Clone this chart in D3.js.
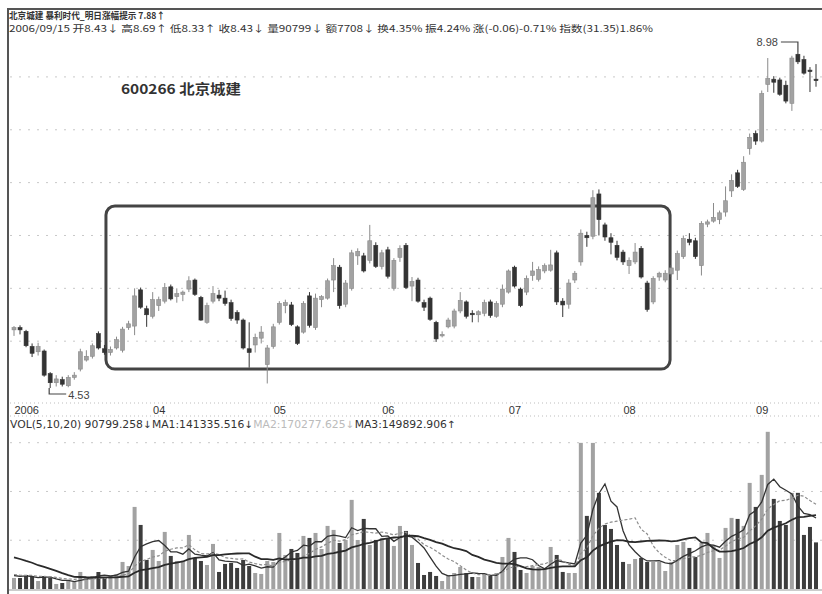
<!DOCTYPE html>
<html><head><meta charset="utf-8">
<script src="https://cdn.jsdelivr.net/npm/d3@7"></script>
<style>body{margin:0;background:#fff}svg{display:block}</style>
</head><body><svg id="c" width="822" height="594"></svg>
<script>
// ---- data ----
const open = [5.30,5.33,5.28,5.08,5.01,5.02,4.72,4.60,4.64,4.56, 4.67,4.78,4.90,4.95,5.25,5.05,5.00,5.06,5.03,5.33,
  5.35,5.83,5.58,5.48,5.62,5.68,5.87,5.74,5.77,5.84, 5.96,5.73,5.40,5.68,5.76,5.72,5.66,5.53,5.43,5.05,
  5.10,5.19,4.84,5.08,5.40,5.62,5.63,5.34,5.27,5.75, 5.33,5.70,5.72,5.96,6.13,5.64,5.85,6.28,6.28,6.22,
  6.42,6.14,6.36,5.85,6.26,6.42,5.88,5.96,5.66,5.72, 5.40,5.22,5.34,5.35,5.55,5.67,5.52,5.50,5.52,5.67,
  5.48,5.64,5.80,6.13,5.84,5.80,6.02,5.97,6.08,6.09, 6.32,5.68,5.64,5.96,6.20,6.55,6.54,7.10,6.69,6.52,
  6.42,6.33,6.15,6.20,6.38,5.92,5.67,6.00,5.96,6.04, 6.09,6.27,6.50,6.48,6.15,6.70,6.74,6.76,6.86,7.14,
  7.38,7.16,7.70,7.90,7.80,8.55,8.62,8.61,8.54,8.30, 8.95,8.88,8.74,8.62];
const high = [5.35,5.36,5.30,5.12,5.13,5.04,4.74,4.70,4.68,4.70, 4.74,5.05,5.03,5.12,5.28,5.10,5.08,5.21,5.34,5.42,
  5.85,5.86,5.62,5.80,5.74,5.92,5.90,5.85,5.82,6.01, 5.98,5.75,5.66,5.88,5.83,5.82,5.70,5.56,5.45,5.40,
  5.25,5.35,5.10,5.38,5.68,5.70,5.67,5.36,5.68,5.80, 5.78,5.76,5.98,6.25,6.16,5.96,6.36,6.38,6.32,6.69,
  6.46,6.36,6.40,6.25,6.42,6.45,6.00,5.99,5.70,5.74, 5.42,5.28,5.46,5.58,5.80,5.69,5.56,5.56,5.70,5.70,
  5.68,5.90,6.10,6.15,5.86,6.02,6.20,6.14,6.18,6.36, 6.35,5.72,5.97,6.08,6.63,6.60,7.15,7.16,6.72,6.58,
  6.48,6.36,6.26,6.45,6.41,5.95,6.01,6.07,6.09,6.16, 6.35,6.55,6.58,6.52,6.74,6.76,6.98,6.88,7.20,7.36,
  7.42,7.60,7.90,7.94,8.47,8.90,8.66,8.64,8.60,8.93, 8.98,8.93,8.78,8.82];
const low = [5.22,5.24,5.07,4.94,4.96,4.68,4.53,4.55,4.55,4.54, 4.64,4.75,4.88,4.92,5.04,4.97,4.96,5.04,5.00,5.30,
  5.23,5.58,5.34,5.45,5.55,5.65,5.69,5.66,5.68,5.80, 5.75,5.42,5.38,5.65,5.68,5.62,5.42,5.38,5.04,4.80,
  5.00,5.12,4.59,5.05,5.37,5.52,5.35,5.10,5.25,5.33, 5.30,5.60,5.70,5.80,5.58,5.60,5.82,6.16,6.06,6.18,
  6.12,6.10,5.98,5.82,6.20,5.84,5.68,5.66,5.55,5.42, 5.14,5.20,5.32,5.32,5.52,5.45,5.40,5.40,5.48,5.46,
  5.46,5.60,5.78,5.86,5.60,5.76,5.95,5.94,6.05,6.07, 5.63,5.47,5.58,5.92,6.15,6.40,6.50,6.55,6.48,6.30,
  6.22,6.16,6.04,6.17,5.98,5.54,5.64,5.95,5.93,6.00, 5.96,6.24,6.42,6.24,6.02,6.66,6.72,6.70,6.80,7.06,
  7.18,7.14,7.62,7.75,7.78,8.45,8.44,8.40,8.30,8.20, 8.82,8.68,8.45,8.52];
const close = [5.33,5.30,5.09,4.99,5.08,4.70,4.60,4.65,4.58,4.67, 4.70,5.01,4.95,5.09,5.06,5.00,5.04,5.17,5.31,5.38,
  5.75,5.60,5.50,5.70,5.70,5.86,5.71,5.78,5.80,5.95, 5.77,5.43,5.62,5.78,5.72,5.65,5.45,5.43,5.06,5.00,
  5.20,5.27,5.06,5.34,5.65,5.66,5.37,5.12,5.65,5.36, 5.72,5.74,5.95,6.15,5.62,5.92,6.32,6.34,6.08,6.48,
  6.14,6.32,6.01,6.22,6.38,5.86,5.94,5.68,5.60,5.44, 5.18,5.24,5.43,5.55,5.69,5.48,5.50,5.54,5.66,5.49,
  5.65,5.84,6.08,5.88,5.62,5.98,6.08,6.10,6.15,6.16, 5.67,5.63,5.92,6.05,6.58,6.52,7.05,6.76,6.53,6.46,
  6.26,6.20,6.22,6.33,6.00,5.57,5.98,6.05,6.05,6.12, 6.31,6.51,6.46,6.27,6.71,6.73,6.79,6.85,7.01,7.28,
  7.20,7.52,7.85,7.80,8.43,8.63,8.58,8.42,8.33,8.90, 8.85,8.70,8.72,8.60];
const volume = [21500,21400,27300,25400,15600,25300,21500,9800,11700,15600, 13600,33200,21400,25300,33100,21500,25400,29300,52700,44800,
  159900,124800,56600,76100,54600,111200,64400,54600,54500,105300, 60500,54600,46800,87800,33200,48800,50700,41000,56600,44900,
  31200,29300,54600,52600,109200,66300,78000,70200,103400,99500, 109200,78000,122900,115100,89700,95600,173600,95500,136500,85800,
  95600,99500,99400,83900,122800,113100,85800,50700,27300,33200, 25400,15600,27300,31200,42900,31200,23400,23400,29300,25400,
  31200,62400,99500,72200,37100,31200,44900,42900,41000,81900, 66300,33200,31200,31200,284700,142400,284600,187200,124800,117000,
  85800,52700,48800,58500,60500,52600,52700,52600,35100,52700, 85800,91700,80000,62400,89700,109200,85800,60500,119000,138500,
  136500,122900,206700,159900,222300,306200,175500,132600,124800,187200, 187300,105300,120900,90799];
// estimated volumes of the 19 sessions before the window (only to seed the moving averages)
const prevVolume = [88000,104000,95000,112000,90000,99000,86000,101000,93000,85000,36000,30000,27000,33000,25000,29000,24000,31000,26000];
const monthTicks = [0,24,44,62,83,102,124];
const monthLabels = ["2006","04","05","06","07","08","09"];
const gridPrices = [5.15,5.85,6.55,7.25,7.95,8.65];
const gridVolumes = [95000,190000,285000];
const maPeriods = [5,10,20];
const boxIdx = [15.25, 108.8];
const boxPrice = [6.94, 4.78];
const headerLine1 = "北京城建  暴利时代_明日涨幅提示 7.88↑";
const headerLine2 = "2006/09/15 开8.43↓ 高8.69↑ 低8.33↑ 收8.43↓ 量90799↓ 额7708↓ 换4.35% 振4.24% 涨(-0.06)-0.71% 指数(31.35)1.86%";
const stockTitle = "600266 北京城建";
const volParts = [["VOL(5,10,20) 90799.258↓MA1:141335.516↓","#333"],["MA2:170277.625↓","#bbb"],["MA3:149892.906↑","#333"]];

// ---- drawing ----
const N = close.length;
const svg = d3.select('#c');
const x = d3.scaleLinear().domain([0, N-1]).range([14, 816]);
const y = d3.scaleLinear().domain([4.53, 8.98]).range([388, 52]);
const yv = d3.scaleLinear().domain([0, 300000]).range([589, 435]);
const UP = "#a2a2a2", UPS = "#8a8a8a", DN = "#333";
const isUp = i => close[i] >= open[i];
const idx = d3.range(N);

// grids
svg.append('g').selectAll('line').data(gridPrices).join('line')
  .attr('x1', 10).attr('x2', 822).attr('y1', d => y(d)).attr('y2', d => y(d))
  .attr('stroke', '#c8c8c8').attr('stroke-dasharray', '2,7');
svg.append('g').selectAll('line').data(gridVolumes).join('line')
  .attr('x1', 10).attr('x2', 822).attr('y1', d => yv(d)).attr('y2', d => yv(d))
  .attr('stroke', '#c8c8c8').attr('stroke-dasharray', '2,7');
[403, 416].forEach(v => svg.append('line').attr('x1', 10).attr('x2', 822).attr('y1', v).attr('y2', v)
  .attr('stroke', '#bdbdbd').attr('stroke-dasharray', '1,3'));

// frame
svg.append('line').attr('x1', 7).attr('x2', 822).attr('y1', 9).attr('y2', 9).attr('stroke', '#555').attr('stroke-width', 2);
svg.append('line').attr('x1', 8).attr('x2', 8).attr('y1', 8).attr('y2', 594).attr('stroke', '#555').attr('stroke-width', 2);
svg.append('line').attr('x1', 9).attr('x2', 822).attr('y1', 590).attr('y2', 590).attr('stroke', '#999').attr('stroke-width', 1);

// annotation box
const bx0 = x(boxIdx[0]), bx1 = x(boxIdx[1]), by0 = y(boxPrice[0]), by1 = y(boxPrice[1]);
svg.append('rect').attr('x', bx0).attr('y', by0).attr('width', bx1 - bx0).attr('height', by1 - by0)
  .attr('rx', 9).attr('fill', 'none').attr('stroke', '#444').attr('stroke-width', 3);

// candles
const cg = svg.append('g');
cg.selectAll('line').data(idx).join('line')
  .attr('x1', i => x(i)).attr('x2', i => x(i))
  .attr('y1', i => y(high[i])).attr('y2', i => y(low[i]))
  .attr('stroke', i => isUp(i) ? UPS : DN).attr('stroke-width', 1);
cg.selectAll('rect').data(idx).join('rect')
  .attr('x', i => x(i) - 2).attr('width', 4)
  .attr('y', i => y(Math.max(open[i], close[i])))
  .attr('height', i => Math.max(1.5, Math.abs(y(open[i]) - y(close[i]))))
  .attr('fill', i => isUp(i) ? UP : DN).attr('stroke', i => isUp(i) ? UPS : DN).attr('stroke-width', 0.6);

// volume bars
svg.append('g').selectAll('rect').data(idx).join('rect')
  .attr('x', i => x(i) - 2).attr('width', 4)
  .attr('y', i => yv(volume[i])).attr('height', i => yv(0) - yv(volume[i]))
  .attr('fill', i => isUp(i) ? UP : "#3d3d3d");

// volume moving averages
const full = prevVolume.concat(volume);
const off = prevVolume.length;
const ma = p => idx.map(i => d3.mean(full.slice(i + off - p + 1, i + off + 1)));
const maStyles = [{c:'#333', w:1.3, d:null}, {c:'#8c8c8c', w:1.2, d:'3,2'}, {c:'#2a2a2a', w:1.8, d:null}];
const line = d3.line().x((d, i) => x(i)).y(d => yv(d)).curve(d3.curveLinear);
maPeriods.forEach((p, k) => {
  svg.append('path').datum(ma(p)).attr('d', line).attr('fill', 'none')
    .attr('stroke', maStyles[k].c).attr('stroke-width', maStyles[k].w)
    .attr('stroke-dasharray', maStyles[k].d);
});

// month axis
const ax = svg.append('g').attr('transform', 'translate(0,403)')
  .call(d3.axisBottom(x).tickValues(monthTicks).tickSize(0).tickPadding(3)
    .tickFormat((d, i) => monthLabels[i]));
ax.select('.domain').remove();
ax.selectAll('text').attr('font-family', 'Liberation Sans, Arial, sans-serif').attr('font-size', 11)
  .attr('fill', '#333').attr('text-anchor', (d, i) => i === 0 ? 'start' : 'middle');

// header texts
const cjk = '"Noto Sans CJK SC", "DejaVu Sans", sans-serif';
svg.append('text').attr('x', 9).attr('y', 19).text(headerLine1)
  .attr('font-family', cjk).attr('font-size', 9.5).attr('font-weight', 'bold').attr('fill', '#333')
  .attr('textLength', 156).attr('lengthAdjust', 'spacingAndGlyphs');
svg.append('text').attr('x', 9).attr('y', 31.5).text(headerLine2)
  .attr('font-family', cjk).attr('font-size', 9.5).attr('fill', '#333')
  .attr('textLength', 644).attr('lengthAdjust', 'spacingAndGlyphs');
svg.append('text').attr('x', 121).attr('y', 94).text(stockTitle)
  .attr('font-family', cjk).attr('font-size', 13.5).attr('font-weight', 'bold').attr('fill', '#333')
  .attr('textLength', 120).attr('lengthAdjust', 'spacingAndGlyphs');
const vt = svg.append('text').attr('x', 10).attr('y', 428)
  .attr('font-family', '"DejaVu Sans Condensed", "Liberation Sans", sans-serif').attr('font-size', 10)
  .attr('textLength', 446).attr('lengthAdjust', 'spacingAndGlyphs');
volParts.forEach(p => vt.append('tspan').text(p[0]).attr('fill', p[1]));

// max / min labels
const iMax = d3.maxIndex(high), iMin = d3.minIndex(low);
const hx = x(iMax), hy = y(high[iMax]);
svg.append('path').attr('d', `M${hx - 17},${hy - 10}H${hx}V${hy}`).attr('fill', 'none').attr('stroke', '#444').attr('stroke-width', 1.2);
svg.append('text').attr('x', hx - 20).attr('y', hy - 6).attr('text-anchor', 'end').text(d3.format('.2f')(high[iMax]))
  .attr('font-family', 'Liberation Sans, Arial, sans-serif').attr('font-size', 11).attr('fill', '#444');
const lx = x(iMin), ly = y(low[iMin]);
svg.append('path').attr('d', `M${lx - 1},${ly}V${ly + 6}H${lx + 16}`).attr('fill', 'none').attr('stroke', '#444').attr('stroke-width', 1.2);
svg.append('text').attr('x', lx + 18).attr('y', ly + 11).text(d3.format('.2f')(low[iMin]))
  .attr('font-family', 'Liberation Sans, Arial, sans-serif').attr('font-size', 11).attr('fill', '#444');
</script></body></html>
